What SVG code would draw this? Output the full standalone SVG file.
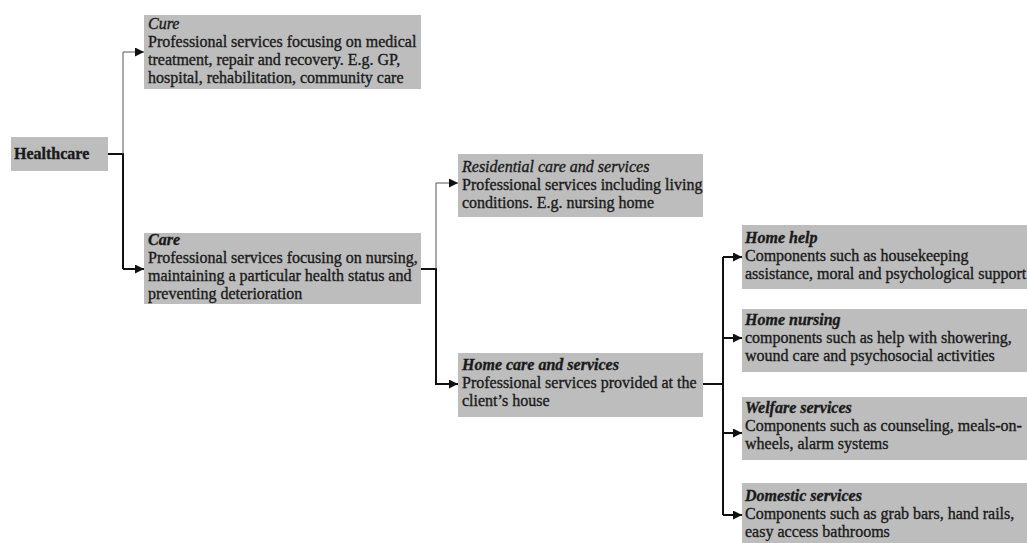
<svg xmlns="http://www.w3.org/2000/svg" width="1027" height="543" viewBox="0 0 1027 543">
<style>
.box{fill:#bdbdbd}
text{font-family:"Liberation Serif","Times New Roman",serif;font-size:16px;fill:#1a1a1a;stroke:#1a1a1a;stroke-width:0.35}
.t{font-style:italic}
.bt{font-style:italic;font-weight:bold}
.b{font-weight:bold}
.thin{stroke:#555;stroke-width:1;fill:none}
.thick{stroke:#111;stroke-width:2;fill:none}
</style>
<defs>
<marker id="ah" viewBox="0 0 10 10" refX="10" refY="5" markerWidth="9" markerHeight="9" markerUnits="userSpaceOnUse" orient="auto">
<path d="M0,0 L10,5 L0,10 z" fill="#111"/>
</marker>
</defs>
<rect width="1027" height="543" fill="#fff"/>
<g id="connectors">
<path class="thick" d="M108,154 H123 V269"/>
<path class="thick" d="M123,269 H144" marker-end="url(#ah)"/>
<path class="thin" d="M123,154 V52 H144" marker-end="url(#ah)"/>
<path class="thick" d="M421,269 H436 V384 H458" marker-end="url(#ah)"/>
<path class="thin" d="M436,269 V183 H458" marker-end="url(#ah)"/>
<path class="thick" d="M703,384 H723"/>
<path class="thick" d="M723,257 V515"/>
<path class="thick" d="M723,257 H742" marker-end="url(#ah)"/>
<path class="thick" d="M723,338 H742" marker-end="url(#ah)"/>
<path class="thick" d="M723,433 H742" marker-end="url(#ah)"/>
<path class="thick" d="M723,515 H742" marker-end="url(#ah)"/>
</g>
<g id="healthcare">
<rect class="box" x="11" y="137" width="97" height="34"/>
<text class="b" x="14" y="159">Healthcare</text>
</g>
<g id="cure">
<rect class="box" x="144" y="15" width="277" height="74"/>
<text x="148" y="29"><tspan class="t">Cure</tspan><tspan x="148" dy="18">Professional services focusing on medical</tspan><tspan x="148" dy="18">treatment, repair and recovery. E.g. GP,</tspan><tspan x="148" dy="18">hospital, rehabilitation, community care</tspan></text>
</g>
<g id="care">
<rect class="box" x="144" y="233" width="277" height="71"/>
<text x="148" y="245"><tspan class="bt">Care</tspan><tspan x="148" dy="18">Professional services focusing on nursing,</tspan><tspan x="148" dy="18">maintaining a particular health status and</tspan><tspan x="148" dy="18">preventing deterioration</tspan></text>
</g>
<g id="residential">
<rect class="box" x="458" y="154" width="245" height="63"/>
<text x="462" y="172"><tspan class="t">Residential care and services</tspan><tspan x="462" dy="18">Professional services including living</tspan><tspan x="462" dy="18">conditions. E.g. nursing home</tspan></text>
</g>
<g id="homecare">
<rect class="box" x="458" y="353" width="245" height="64"/>
<text x="462" y="370"><tspan class="bt">Home care and services</tspan><tspan x="462" dy="18">Professional services provided at the</tspan><tspan x="462" dy="18">client’s house</tspan></text>
</g>
<g id="homehelp">
<rect class="box" x="742" y="225" width="285" height="64"/>
<text x="745" y="243"><tspan class="bt">Home help</tspan><tspan x="745" dy="18">Components such as housekeeping</tspan><tspan x="745" dy="18">assistance, moral and psychological support</tspan></text>
</g>
<g id="homenursing">
<rect class="box" x="742" y="309" width="285" height="63"/>
<text x="745" y="325"><tspan class="bt">Home nursing</tspan><tspan x="745" dy="18">components such as help with showering,</tspan><tspan x="745" dy="18">wound care and psychosocial activities</tspan></text>
</g>
<g id="welfare">
<rect class="box" x="742" y="397" width="285" height="63"/>
<text x="745" y="413"><tspan class="bt">Welfare services</tspan><tspan x="745" dy="18">Components such as counseling, meals-on-</tspan><tspan x="745" dy="18">wheels, alarm systems</tspan></text>
</g>
<g id="domestic">
<rect class="box" x="742" y="483" width="285" height="60"/>
<text x="745" y="501"><tspan class="bt">Domestic services</tspan><tspan x="745" dy="18">Components such as grab bars, hand rails,</tspan><tspan x="745" dy="18">easy access bathrooms</tspan></text>
</g>
</svg>
